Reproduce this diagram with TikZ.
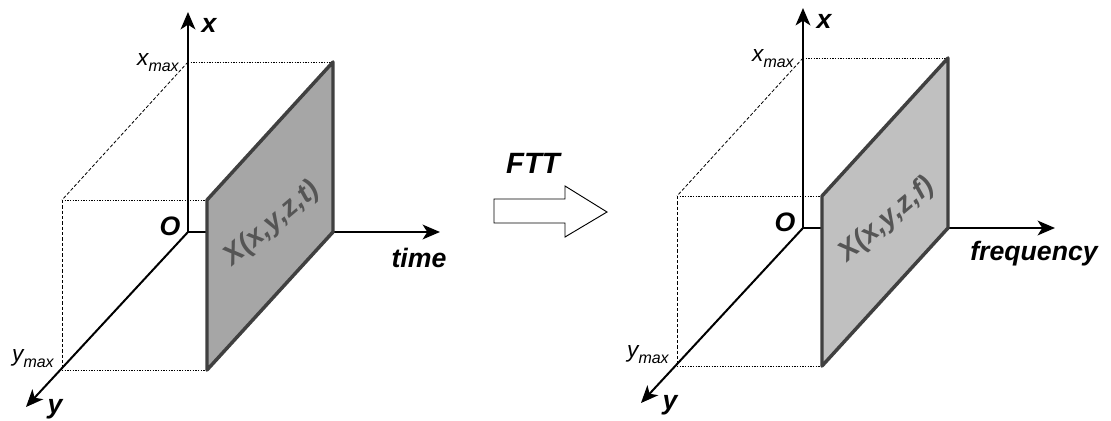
\documentclass[tikz,border=0pt]{standalone}
\usepackage{fontspec}
\setmainfont{Liberation Sans}
\usetikzlibrary{arrows.meta,calc,positioning}

\definecolor{sheetA}{HTML}{A6A6A6}
\definecolor{sheetB}{HTML}{C0C0C0}
\definecolor{sheetrim}{HTML}{404040}
\definecolor{sheetink}{HTML}{555555}

\begin{document}
\begin{tikzpicture}[
  x=0.75pt,y=-0.75pt,
  line join=miter,
  axis/.style={-{Stealth[length=13pt,width=11pt,inset=3.5pt]},line width=1.8pt},
  guide/.style={dash pattern=on 1pt off 1pt,line width=0.6pt},
  edge/.style={dash pattern=on 2.5pt off 1.5pt,line width=0.6pt},
  axislabel/.style={font=\fontsize{20}{24}\selectfont\bfseries\itshape,inner sep=0pt},
  limitlabel/.style={font=\fontsize{17}{20}\selectfont\itshape,inner sep=0pt},
  sheet/.style={draw=sheetrim,line width=2.6pt,line join=round}
]
  \useasboundingbox (0,0) rectangle (1111,421);

  % Box dimensions, in pixels of the sketch.
  \def\figH{170}  % x_max above the origin
  \def\figW{145}  % sheet distance along the horizontal axis
  \def\figL{252}  % length of the horizontal axis

  % The two frames: time domain and frequency domain.
  \foreach \ox/\oy/\axisname/\argname/\sheetcolor in {
    188/232/time/t/sheetA, 803/228/frequency/f/sheetB}{
    \begin{scope}[shift={(\ox,\oy)}]
      \coordinate (O-\argname) at (0,0);
      \coordinate (Xtip-\argname) at (0,-220);
      \coordinate (Xm-\argname) at (0,-\figH);
      \coordinate (Ytip-\argname) at (-162,175);
      \coordinate (Ym-\argname) at (-126,138);
      \coordinate (Htip-\argname) at (\figL,0);
      \coordinate (Back-\argname) at (-126,-32);
      \coordinate (Sbt-\argname) at (\figW,-\figH); % back top
      \coordinate (Sbb-\argname) at (\figW,0);      % back bottom
      \coordinate (Sfb-\argname) at (\figW-126,138); % front bottom
      \coordinate (Sft-\argname) at (\figW-126,-32); % front top

      % Hidden edges of the box.
      \draw[guide] (Xm-\argname) -- (Sbt-\argname);
      \draw[guide] (Back-\argname) -- (Sft-\argname);
      \draw[guide] (Ym-\argname) -- (Sfb-\argname);
      \draw[edge] (Xm-\argname) -- (Back-\argname);
      \draw[edge] (Back-\argname) -- (Ym-\argname);

      % Axes.
      \draw[axis] (O-\argname) -- (Xtip-\argname);
      \draw[axis,line width=1.5pt] (O-\argname) -- (Ytip-\argname);
      \draw[axis] (O-\argname) -- (Htip-\argname);

      % The data sheet.
      \draw[sheet,fill=\sheetcolor] (Sft-\argname) -- (Sbt-\argname)
        -- (Sbb-\argname) -- (Sfb-\argname) -- cycle;
      \node[axislabel,rotate=40,text=sheetink,
            font=\fontsize{21}{24}\selectfont\bfseries\itshape]
        (data-\argname) at (84,-8) {X(x,y,z,\argname)};

      \node[axislabel] (oname-\argname) at (-18,-6) {O};
      \node[axislabel] (xname-\argname) at (21,-207) {x};
      \node[axislabel] (yname-\argname) at (-133,177) {y};
      \node[axislabel] (hname-\argname) at (231,26) {\axisname};
      \node[limitlabel,anchor=base east] (xmax-\argname)
        at ($(Xm-\argname)+(-9,3)$)
        {x\raisebox{-5pt}{\fontsize{12}{14}\selectfont max}};
      \node[limitlabel,anchor=base east] (ymax-\argname)
        at ($(Ym-\argname)+(-8,-9)$)
        {y\raisebox{-5pt}{\fontsize{12}{14}\selectfont max}};
    \end{scope}
  }

  % Transform arrow.
  \coordinate (fA) at (494,199);
  \coordinate (fB) at (565,199);
  \coordinate (fC) at (565,186);
  \coordinate (fD) at (607,212);
  \coordinate (fE) at (565,237);
  \coordinate (fF) at (565,223);
  \coordinate (fG) at (494,223);
  \draw[line width=0.7pt] (fA) -- (fB) -- (fC) -- (fD) -- (fE)
    -- (fF) -- (fG) -- cycle;
  \node[axislabel,font=\fontsize{22}{26}\selectfont\bfseries\itshape]
    (ftt) at (533,163) {FTT};
\end{tikzpicture}
\end{document}
